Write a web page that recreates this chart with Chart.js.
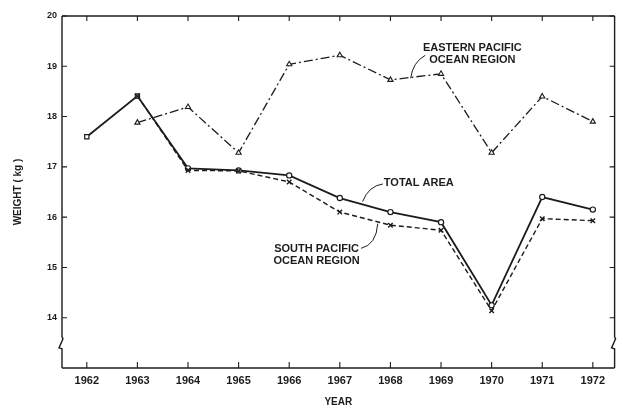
<!DOCTYPE html>
<html>
<head>
<meta charset="utf-8">
<script src="https://cdn.jsdelivr.net/npm/chart.js@4.4.1/dist/chart.umd.min.js"></script>
<style>
  html, body { margin: 0; padding: 0; background: #fff; }
  #wrap { width: 620px; height: 409px; }
</style>
</head>
<body>
<div id="wrap"><canvas id="chart" width="620" height="409"></canvas></div>
<script>
// ----------------------------------------------
// data
// ----------------------------------------------
const years          = [1962, 1963, 1964, 1965, 1966, 1967, 1968, 1969, 1970, 1971, 1972];
const totalArea      = [17.6, 18.41, 16.97, 16.93, 16.83, 16.38, 16.1, 15.9, 14.25, 16.4, 16.15];
const southPacific   = [null, 18.41, 16.93, 16.92, 16.7, 16.1, 15.84, 15.74, 14.14, 15.97, 15.93];
const easternPacific = [null, 17.88, 18.19, 17.28, 19.04, 19.22, 18.73, 18.85, 17.28, 18.4, 17.9];
const yTicks         = [14, 15, 16, 17, 18, 19, 20];

const INK  = '#1c1c1c';
const FONT = "'Liberation Sans', Arial, sans-serif";

const toPoints = arr => years.map((x, i) => ({ x, y: arr[i] }));

// frame, inward ticks, axis breaks, labels with leaders
const framePlugin = {
  id: 'frame',
  afterDatasetsDraw(chart) {
    const { ctx, chartArea: a, scales: { x, y } } = chart;
    ctx.save();
    ctx.strokeStyle = INK;
    ctx.lineWidth = 1.4;

    // outline with a break near the bottom of both vertical sides
    const yb = y.getPixelForValue(13.5);
    const side = (px, dir) => {
      ctx.beginPath();
      ctx.moveTo(px, a.top);
      ctx.lineTo(px, yb - 6);
      ctx.lineTo(px + 1 * dir, yb - 4);
      ctx.lineTo(px - 3 * dir, yb + 5);
      ctx.lineTo(px, yb + 6);
      ctx.lineTo(px, a.bottom);
      ctx.stroke();
    };
    side(a.left, 1);
    side(a.right, 1);
    ctx.beginPath();
    ctx.moveTo(a.left, a.top);
    ctx.lineTo(a.right, a.top);
    ctx.moveTo(a.left, a.bottom);
    ctx.lineTo(a.right, a.bottom);
    ctx.stroke();

    // ticks pointing into the plot
    ctx.lineWidth = 1.1;
    ctx.beginPath();
    years.forEach(v => {
      const px = x.getPixelForValue(v);
      ctx.moveTo(px, a.top);
      ctx.lineTo(px, a.top + 5);
      ctx.moveTo(px, a.bottom);
      ctx.lineTo(px, a.bottom - 6);
    });
    yTicks.forEach(v => {
      const py = y.getPixelForValue(v);
      ctx.moveTo(a.left, py);
      ctx.lineTo(a.left + 5, py);
      ctx.moveTo(a.right, py);
      ctx.lineTo(a.right - 5, py);
    });
    ctx.stroke();

    // series labels
    const P = (vx, vy) => [x.getPixelForValue(vx), y.getPixelForValue(vy)];
    ctx.fillStyle = INK;
    ctx.font = 'bold 11px ' + FONT;
    ctx.textAlign = 'center';
    ctx.textBaseline = 'middle';
    const text = (s, vx, vy) => { const [px, py] = P(vx, vy); ctx.fillText(s, px, py); };
    text('EASTERN PACIFIC', 1969.62, 19.36);
    text('OCEAN REGION',    1969.62, 19.12);
    text('TOTAL AREA',      1968.56, 16.67);
    text('SOUTH PACIFIC',   1966.54, 15.36);
    text('OCEAN REGION',    1966.54, 15.12);

    // curved leaders
    ctx.lineWidth = 1;
    const leader = (p0, c, p1) => {
      const [x0, y0] = P(...p0), [cx, cy] = P(...c), [x1, y1] = P(...p1);
      ctx.beginPath();
      ctx.moveTo(x0, y0);
      ctx.quadraticCurveTo(cx, cy, x1, y1);
      ctx.stroke();
    };
    leader([1968.69, 19.22], [1968.44, 19.08], [1968.40, 18.76]);
    leader([1967.85, 16.66], [1967.57, 16.62], [1967.45, 16.31]);
    leader([1967.42, 15.38], [1967.72, 15.45], [1967.75, 15.87]);
    ctx.restore();
  }
};

const ctx = document.getElementById('chart').getContext('2d');
new Chart(ctx, {
  type: 'line',
  data: {
    datasets: [
      {
        label: 'Eastern Pacific Ocean Region',
        data: toPoints(easternPacific),
        borderColor: INK,
        borderWidth: 1.3,
        borderDash: [9, 3, 2, 3],
        pointStyle: 'triangle',
        pointRadius: 3,
        pointBorderWidth: 1.1,
        pointBorderColor: INK,
        pointBackgroundColor: '#fff'
      },
      {
        label: 'South Pacific Ocean Region',
        data: toPoints(southPacific),
        borderColor: INK,
        borderWidth: 1.4,
        borderDash: [5, 3],
        pointStyle: 'crossRot',
        pointRadius: 3.2,
        pointBorderWidth: 1.4,
        pointBorderColor: INK
      },
      {
        label: 'Total Area',
        data: toPoints(totalArea),
        borderColor: INK,
        borderWidth: 1.8,
        pointStyle: years.map(v => v < 1964 ? 'rect' : 'circle'),
        pointRadius: years.map(v => v < 1964 ? 3 : 2.6),
        pointBorderWidth: 1.2,
        pointBorderColor: INK,
        pointBackgroundColor: '#fff'
      }
    ]
  },
  options: {
    responsive: false,
    animation: false,
    layout: { padding: { top: 16, right: 3, left: 0, bottom: 0 } },
    plugins: { legend: { display: false }, tooltip: { enabled: false } },
    scales: {
      x: {
        type: 'linear',
        min: 1961.51,
        max: 1972.43,
        grid: { display: false, drawTicks: false },
        border: { display: false },
        afterBuildTicks: s => { s.ticks = years.map(v => ({ value: v })); },
        afterFit: s => { s.height = 41; },
        ticks: {
          padding: 6,
          autoSkip: false,
          maxRotation: 0,
          color: INK,
          font: { family: FONT, size: 11, weight: 'bold' },
          callback: v => String(v)
        },
        title: {
          display: true,
          text: 'YEAR',
          color: INK,
          font: { family: FONT, size: 10, weight: 'bold' },
          padding: { top: 0, bottom: 1 }
        }
      },
      y: {
        min: 13,
        max: 20,
        grid: { display: false, drawTicks: false },
        border: { display: false },
        afterBuildTicks: s => { s.ticks = yTicks.map(v => ({ value: v })); },
        afterFit: s => { s.width = 62; },
        ticks: {
          padding: 5,
          color: INK,
          font: { family: FONT, size: 9, weight: 'bold' }
        },
        title: {
          display: true,
          text: 'WEIGHT ( kg )',
          color: INK,
          font: { family: FONT, size: 10, weight: 'bold' },
          padding: { top: 12, bottom: 0 }
        }
      }
    }
  },
  plugins: [framePlugin]
});
</script>
</body>
</html>
